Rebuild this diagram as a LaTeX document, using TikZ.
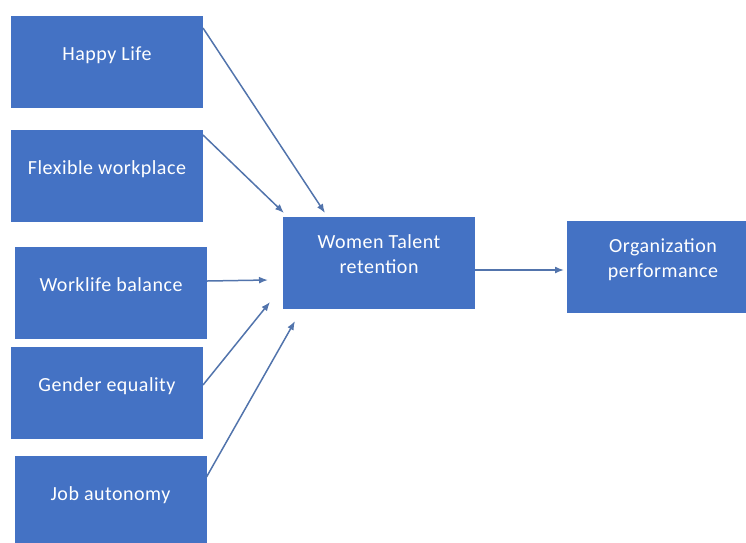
\documentclass[tikz,border=0pt]{standalone}
\usepackage{fontspec}
\setmainfont[LetterSpace=2.5]{Carlito}
\usetikzlibrary{shapes,arrows.meta}
\usetikzlibrary{positioning}
\definecolor{boxblue}{RGB}{68,114,196}
\definecolor{arrowblue}{RGB}{82,116,172}
\tikzset{>={Latex[length=9pt,width=7pt]}, node distance=20pt, font=\fontsize{20}{25}\selectfont}
\tikzstyle{block} = [fill=boxblue, rectangle, minimum width=192pt, minimum height=92pt, inner sep=0pt, outer sep=0pt, text=white, align=center, execute at end node={\rule[-16pt]{0pt}{0pt}}]
\tikzstyle{link} = [->, draw=arrowblue, line width=1.5pt]
\tikzstyle{tip} = [coordinate]

\begin{document}
\begin{tikzpicture}[x=1pt, y=-1pt]
	\useasboundingbox (0,0) rectangle (746,542);

	\node [block] (happy) at (107,62) {Happy Life};
	\node [block, below=22pt of happy] (flex) {Flexible workplace};
	\node [block, below=25pt of flex, xshift=4pt] (worklife) {Worklife balance};
	\node [block, below=8pt of worklife, xshift=-4pt] (gender) {Gender equality};
	\node [block, below=17pt of gender, xshift=3.5pt] (job) {Job autonomy};

	\node [block, right=76pt of worklife, yshift=30.5pt] (talent) {Women Talent\\retention};
	\node [block, right=92pt of talent, yshift=-4pt] (org) {Organization\\performance};

	% arrow ends stop short of the boxes
	\node [tip] (tHappy) at (325,213) {};
	\node [tip] (tFlex) at (284,213) {};
	\node [tip] (tWork) at (268,280) {};
	\node [tip] (tGender) at (270,302) {};
	\node [tip] (tJob) at (295,321) {};
	\node [tip] (tOrg) at (564,270) {};

	\draw [link] ([yshift=34pt]happy.east) -- (tHappy);
	\draw [link] ([yshift=-5pt]flex.north east) -- (tFlex);
	\draw [link] ([yshift=12pt]worklife.east) -- (tWork);
	\draw [link] ([yshift=8pt]gender.east) -- (tGender);
	\draw [link] ([yshift=25pt]job.east) -- (tJob);
	\draw [link] (talent.east |- tOrg) -- (tOrg);
\end{tikzpicture}
\end{document}
